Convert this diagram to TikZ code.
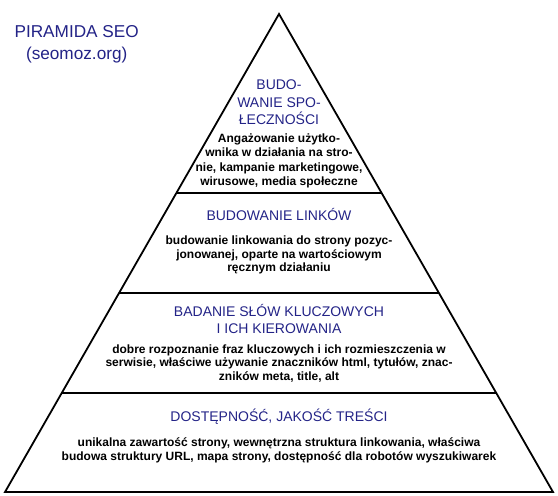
\documentclass[tikz,border=0pt]{standalone}
\usepackage{fontspec}
\setmainfont{Liberation Sans}
\usetikzlibrary{calc}
\definecolor{headblue}{RGB}{35,35,135}
\tikzset{
  outline/.style={draw=black, line width=1.8pt, line join=miter},
  divider/.style={draw=black, line width=1.6pt},
  titletxt/.style={inner sep=0pt, anchor=base, text=headblue, font=\fontsize{17.2}{20}\selectfont},
  headtxt/.style={inner sep=0pt, anchor=base, text=headblue, font=\fontsize{14}{17}\selectfont},
  bodytxt/.style={inner sep=0pt, anchor=base, text=black, font=\fontsize{12}{14}\selectfont\bfseries},
}
\begin{document}
\begin{tikzpicture}[x=1pt, y=-1pt]
\useasboundingbox (0,0) rectangle (558,496);
\coordinate (apex) at (279,14);
\coordinate (bl) at (5,492);
\coordinate (br) at (553,492);
\draw[outline] (apex) -- (bl) -- (br) -- cycle;
\coordinate (l1) at ($(apex)!{179/478}!(bl)$);
\coordinate (r1) at ($(apex)!{179/478}!(br)$);
\coordinate (l2) at ($(apex)!{279/478}!(bl)$);
\coordinate (r2) at ($(apex)!{279/478}!(br)$);
\coordinate (l3) at ($(apex)!{379/478}!(bl)$);
\coordinate (r3) at ($(apex)!{379/478}!(br)$);
\draw[divider] (l1) -- (r1);
\draw[divider] (l2) -- (r2);
\draw[divider] (l3) -- (r3);
% title
\node[titletxt] (t1) at (76.7,37.3) {PIRAMIDA SEO};
\node[titletxt] (t2) at (76.7,59.3) {(seomoz.org)};
% section 1
\node[headtxt] (h1a) at (279,89.5) {BUDO-};
\node[headtxt] (h1b) at (279,107) {WANIE SPO-};
\node[headtxt] (h1c) at (279,124.5) {ŁECZNOŚCI};
\node[bodytxt] (b1a) at (279,142) {Angażowanie użytko-};
\node[bodytxt] (b1b) at (279,156.5) {wnika w działania na stro-};
\node[bodytxt] (b1c) at (279,171) {nie, kampanie marketingowe,};
\node[bodytxt] (b1d) at (279,185.3) {wirusowe, media społeczne};
% section 2
\node[headtxt] (h2) at (279,220.7) {BUDOWANIE LINKÓW};
\node[bodytxt] (b2a) at (279,244.3) {budowanie linkowania do strony pozyc-};
\node[bodytxt] (b2b) at (279,258.2) {jonowanej, oparte na wartościowym};
\node[bodytxt] (b2c) at (279,271.8) {ręcznym działaniu};
% section 3
\node[headtxt] (h3a) at (279,316.7) {BADANIE SŁÓW KLUCZOWYCH};
\node[headtxt] (h3b) at (279,333.3) {I ICH KIEROWANIA};
\node[bodytxt] (b3a) at (279,353.3) {dobre rozpoznanie fraz kluczowych i ich rozmieszczenia w};
\node[bodytxt] (b3b) at (279,366.7) {serwisie, właściwe używanie znaczników html, tytułów, znac-};
\node[bodytxt] (b3c) at (279,380) {zników meta, title, alt};
% section 4
\node[headtxt] (h4) at (279,421.5) {DOSTĘPNOŚĆ, JAKOŚĆ TREŚCI};
\node[bodytxt] (b4a) at (279,446) {unikalna zawartość strony, wewnętrzna struktura linkowania, właściwa};
\node[bodytxt] (b4b) at (279,460.5) {budowa struktury URL, mapa strony, dostępność dla robotów wyszukiwarek};
\end{tikzpicture}
\end{document}
